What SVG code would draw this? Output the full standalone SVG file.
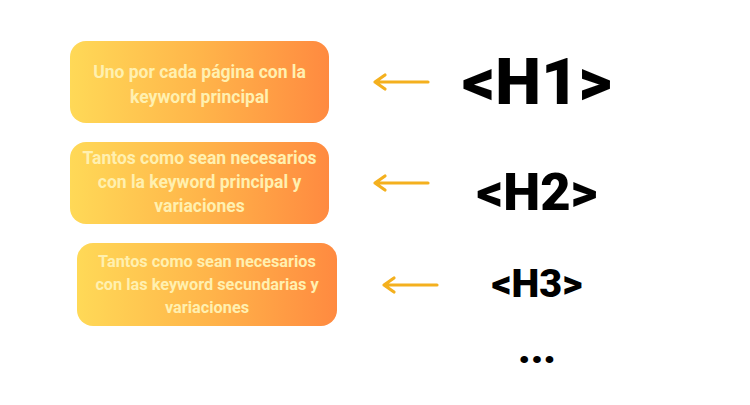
<svg xmlns="http://www.w3.org/2000/svg" width="750" height="405" viewBox="0 0 750 405">
<defs>
<linearGradient id="g" x1="0" y1="0" x2="1" y2="0">
<stop offset="0" stop-color="#FFD957"/>
<stop offset="0.5" stop-color="#FFB54A"/>
<stop offset="1" stop-color="#FF8A40"/>
</linearGradient>
<style>
.box{fill:url(#g);}
.t{font-family:Roboto,"Liberation Sans",sans-serif;font-weight:bold;font-size:17.5px;fill:#FFF0B0;text-anchor:middle;}
.s{font-size:16.3px;}
.h{font-family:Roboto,"Liberation Sans",sans-serif;font-weight:900;fill:#000;text-anchor:middle;}
.arr{stroke:#F4B01E;stroke-width:3.2;fill:none;stroke-linecap:round;stroke-linejoin:round;}
</style>
</defs>
<rect width="750" height="405" fill="#fff"/>
<g id="box1">
<rect class="box" x="70" y="41" width="259" height="82" rx="16"/>
<text class="t" x="199.5" y="78">Uno por cada página con la</text>
<text class="t" x="199.5" y="103">keyword principal</text>
</g>
<g id="box2">
<rect class="box" x="70" y="142" width="259" height="82" rx="16"/>
<text class="t" x="199.5" y="164">Tantos como sean necesarios</text>
<text class="t" x="199.5" y="188">con la keyword principal y</text>
<text class="t" x="199.5" y="212">variaciones</text>
</g>
<g id="box3">
<rect class="box" x="77" y="243" width="260" height="83" rx="16"/>
<text class="t s" x="207" y="267">Tantos como sean necesarios</text>
<text class="t s" x="207" y="290">con las keyword secundarias y</text>
<text class="t s" x="207" y="313">variaciones</text>
</g>
<g id="h1"><text class="h" x="537" y="104" font-size="65">&lt;H1&gt;</text></g>
<g id="h2"><text class="h" x="537" y="210" font-size="52.5">&lt;H2&gt;</text></g>
<g id="h3"><text class="h" x="537" y="297" font-size="39.5">&lt;H3&gt;</text></g>
<g id="dots"><text class="h" x="537" y="363" font-size="42">...</text></g>
<g id="connectors">
<path class="arr" d="M428,82 H376 M385,75 L375,82 L385,89"/>
<path class="arr" d="M428,183 H376 M385,176 L375,183 L385,190"/>
<path class="arr" d="M437,285 H385 M394,278 L384,285 L394,292"/>
</g>
</svg>
